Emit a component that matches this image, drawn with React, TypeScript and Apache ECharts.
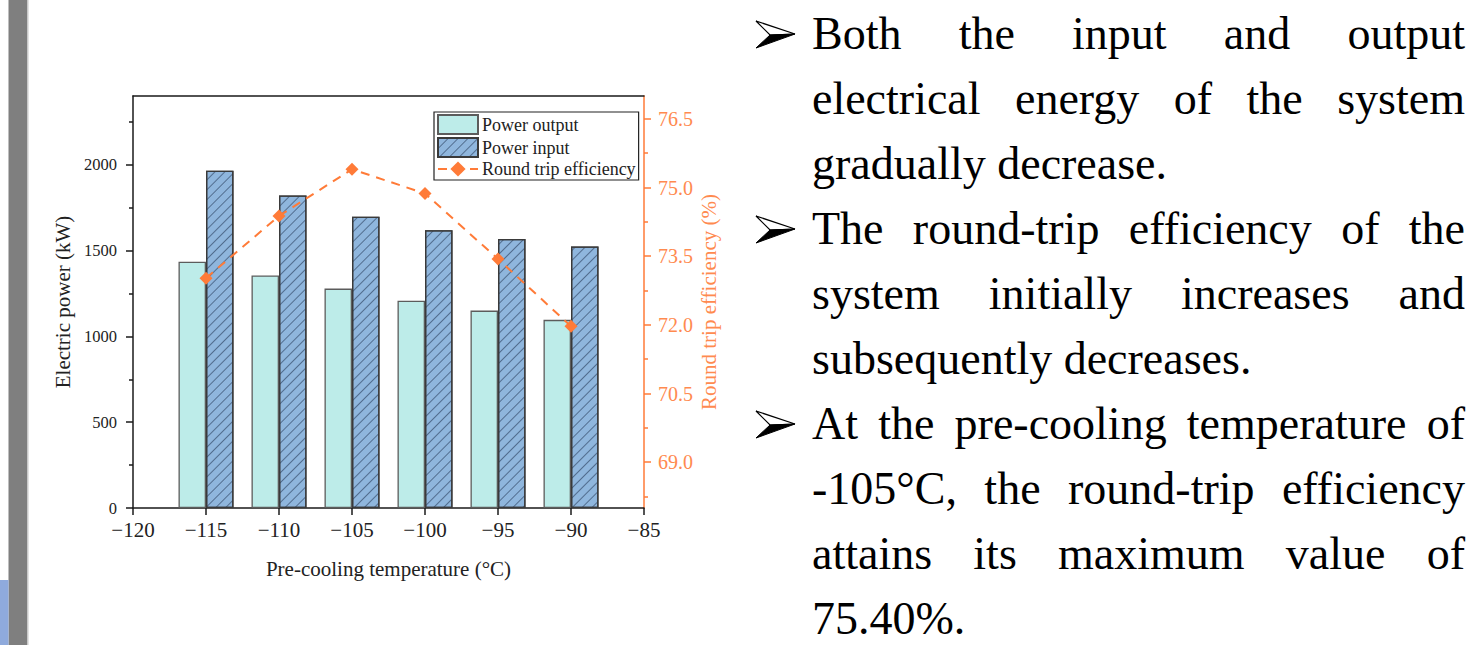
import React, { useEffect, useRef } from 'react';
import * as echarts from 'echarts';

// ---------------- data ----------------
const temperatures = [-115, -110, -105, -100, -95, -90];
const powerOutput = [1435, 1355, 1278, 1208, 1150, 1096];
const powerInput = [1965, 1820, 1697, 1618, 1567, 1524];
const efficiency = [73.02, 74.38, 75.4, 74.87, 73.44, 71.97];

const leftTicks = [0, 500, 1000, 1500, 2000];
const leftMinorTicks = [250, 750, 1250, 1750, 2250];
const rightTicks = [69, 70.5, 72, 73.5, 75, 76.5];
const rightMinorTicks = [68.25, 69.75, 71.25, 72.75, 74.25, 75.75];

const seriesNames = ['Power output', 'Power input', 'Round trip efficiency'];

const textLines = [
  'Both the input and output',
  'electrical energy of the system',
  'gradually decrease.',
  'The round-trip efficiency of the',
  'system initially increases and',
  'subsequently decreases.',
  'At the pre-cooling temperature of',
  '-105°C, the round-trip efficiency',
  'attains its maximum value of',
  '75.40%.',
];
const justifiedLines = [true, true, false, true, true, false, true, true, true, false];
const bulletLines = [0, 3, 6];

// ---------------- styles ----------------
const FONT = '"Liberation Serif", "Times New Roman", serif';
const ORANGE = '#ff7b38';
const ORANGE_TEXT = '#ff8a4f';
const AXIS = '#1a1a1a';

function buildTextGraphics(): any[] {
  const els: any[] = [];
  const canvas = document.createElement('canvas');
  const ctx = canvas.getContext('2d') as CanvasRenderingContext2D;
  const fontSize = 46;
  ctx.font = `${fontSize}px "Liberation Serif"`;
  const left = 812;
  const right = 1465;
  textLines.forEach((line, i) => {
    const baseline = 49 + 65 * i;
    const y = baseline - 15.5;
    if (justifiedLines[i]) {
      const words = line.split(' ');
      const widths = words.map((w) => ctx.measureText(w).width);
      const total = widths.reduce((a, b) => a + b, 0);
      const gap = (right - left - total) / (words.length - 1);
      let x = left;
      words.forEach((w, k) => {
        els.push({
          type: 'text',
          x: k === words.length - 1 ? right : x,
          y,
          style: {
            text: w,
            fontSize,
            fontFamily: FONT,
            fill: '#000',
            align: k === words.length - 1 ? 'right' : 'left',
            verticalAlign: 'middle',
          },
        });
        x += widths[k] + gap;
      });
    } else {
      els.push({
        type: 'text',
        x: left,
        y,
        style: { text: line, fontSize, fontFamily: FONT, fill: '#000', align: 'left', verticalAlign: 'middle' },
      });
    }
    if (bulletLines.includes(i)) {
      const c = baseline - 15;
      els.push({
        type: 'polygon',
        shape: { points: [[756, c - 13], [795, c], [770, c + 1]] },
        style: { fill: '#fff', stroke: '#000', lineWidth: 1.2 },
      });
      els.push({
        type: 'polygon',
        shape: { points: [[770, c + 1], [795, c], [756, c + 14]] },
        style: { fill: '#000', stroke: '#000', lineWidth: 1 },
      });
    }
  });
  return els;
}

export default function App() {
  const ref = useRef<HTMLDivElement>(null);

  useEffect(() => {
    if (!ref.current) return;
    const chart = echarts.init(ref.current, undefined, { renderer: 'svg' });

    const fmtMinus = (v: number) => (v < 0 ? '\u2212' + Math.abs(v) : String(v));

    const option: any = {
      animation: false,
      backgroundColor: '#ffffff',
      textStyle: { fontFamily: FONT },
      grid: {
        left: 133,
        right: 1481 - 644,
        top: 96,
        bottom: 645 - 508,
        containLabel: false,
        outerBoundsMode: 'none',
      },
      legend: {
        orient: 'vertical',
        left: 434,
        top: 112,
        itemWidth: 40,
        itemHeight: 19,
        itemGap: 2,
        padding: [2, 3, 2, 3],
        borderColor: '#222',
        borderWidth: 1.2,
        borderRadius: 0,
        backgroundColor: '#ffffff',
        textStyle: { fontSize: 18, fontFamily: FONT, color: '#222', padding: [0, 0, 0, -1] },
        data: [
          { name: seriesNames[0], icon: 'rect' },
          { name: seriesNames[1], icon: 'rect' },
          { name: seriesNames[2] },
        ],
      },
      xAxis: [
        {
          type: 'value',
          position: 'bottom',
          min: -120,
          max: -85,
          interval: 5,
          name: 'Pre-cooling temperature (°C)',
          nameLocation: 'middle',
          nameGap: 50,
          nameTextStyle: { fontSize: 21, fontFamily: FONT, color: '#222' },
          axisLine: { show: true, onZero: false, lineStyle: { color: AXIS, width: 1.5 } },
          axisTick: { show: true, inside: false, length: 7, lineStyle: { color: AXIS, width: 1.5 } },
          axisLabel: { fontSize: 21, fontFamily: FONT, color: '#222', margin: 11, formatter: fmtMinus },
          splitLine: { show: false },
        },
        {
          type: 'value',
          position: 'top',
          min: -120,
          max: -85,
          axisLine: { show: true, onZero: false, lineStyle: { color: AXIS, width: 1.5 } },
          axisTick: { show: false },
          axisLabel: { show: false },
          splitLine: { show: false },
        },
      ],
      yAxis: [
        {
          type: 'value',
          position: 'left',
          min: 0,
          max: 2400,
          name: 'Electric power (kW)',
          nameLocation: 'middle',
          nameGap: 60,
          nameTextStyle: { fontSize: 21, fontFamily: FONT, color: '#222' },
          axisLine: { show: true, onZero: false, lineStyle: { color: AXIS, width: 1.5 } },
          axisTick: { show: true, inside: false, length: 7, customValues: leftTicks, lineStyle: { color: AXIS, width: 1.5 } },
          axisLabel: {
            fontSize: 16.5,
            fontFamily: FONT,
            color: '#222',
            margin: 16,
            customValues: leftTicks,
            formatter: (v: number) => String(v),
          },
          splitLine: { show: false },
        },
        {
          type: 'value',
          position: 'right',
          min: 68,
          max: 77,
          name: 'Round trip efficiency (%)',
          nameLocation: 'middle',
          nameGap: 54,
          nameTextStyle: { fontSize: 21, fontFamily: FONT, color: ORANGE_TEXT },
          axisLine: { show: true, onZero: false, lineStyle: { color: ORANGE, width: 1.5 } },
          axisTick: { show: true, inside: false, length: 7, customValues: rightTicks, lineStyle: { color: ORANGE, width: 1.5 } },
          axisLabel: {
            fontSize: 20,
            fontFamily: FONT,
            color: ORANGE_TEXT,
            margin: 14,
            customValues: rightTicks,
            formatter: (v: number) => v.toFixed(1),
          },
          splitLine: { show: false },
        },
        {
          type: 'value',
          position: 'left',
          min: 0,
          max: 2400,
          axisLine: { show: false },
          axisTick: { show: true, inside: false, length: 4, customValues: leftMinorTicks, lineStyle: { color: AXIS, width: 1.5 } },
          axisLabel: { show: false },
          splitLine: { show: false },
        },
        {
          type: 'value',
          position: 'right',
          min: 68,
          max: 77,
          axisLine: { show: false },
          axisTick: { show: true, inside: false, length: 4, customValues: rightMinorTicks, lineStyle: { color: ORANGE, width: 1.5 } },
          axisLabel: { show: false },
          splitLine: { show: false },
        },
      ],
      series: [
        {
          name: seriesNames[0],
          type: 'bar',
          xAxisIndex: 0,
          yAxisIndex: 0,
          barWidth: 27.5,
          barGap: '0%',
          data: temperatures.map((t, i) => [t, powerOutput[i]]),
          itemStyle: { color: '#bdece9', borderColor: '#5c5c5c', borderWidth: 1.3 },
        },
        {
          name: seriesNames[1],
          type: 'bar',
          xAxisIndex: 0,
          yAxisIndex: 0,
          barWidth: 27.5,
          barGap: '0%',
          data: temperatures.map((t, i) => [t, powerInput[i]]),
          itemStyle: {
            color: '#8fb6dd',
            borderColor: '#3a3a3a',
            borderWidth: 1.3,
            decal: {
              symbol: 'rect',
              symbolSize: 1,
              color: 'rgba(40,60,90,0.6)',
              dashArrayX: [1, 0],
              dashArrayY: [0.7, 6],
              rotation: -Math.PI / 4,
            },
          },
        },
        {
          name: seriesNames[2],
          type: 'line',
          xAxisIndex: 0,
          yAxisIndex: 1,
          z: 5,
          symbol: 'diamond',
          symbolSize: 13,
          data: temperatures.map((t, i) => [t, efficiency[i]]),
          lineStyle: { color: ORANGE, width: 2, type: [9, 7] },
          itemStyle: { color: ORANGE },
        },
      ],
      graphic: {
        elements: [
          { type: 'rect', shape: { x: 8.5, y: 0, width: 18.5, height: 645 }, style: { fill: '#7f7f7f' }, z: 10 },
          { type: 'rect', shape: { x: 27, y: 0, width: 1.5, height: 645 }, style: { fill: '#c8c8c8' }, z: 10 },
          { type: 'rect', shape: { x: 0, y: 580, width: 8.5, height: 65 }, style: { fill: '#8faadc' }, z: 10 },
          ...buildTextGraphics(),
        ],
      },
    };

    chart.setOption(option);
    return () => chart.dispose();
  }, []);

  return (
    <div
      ref={ref}
      style={{ position: 'fixed', left: 0, top: 0, width: 1481, height: 645, background: '#fff' }}
    />
  );
}
